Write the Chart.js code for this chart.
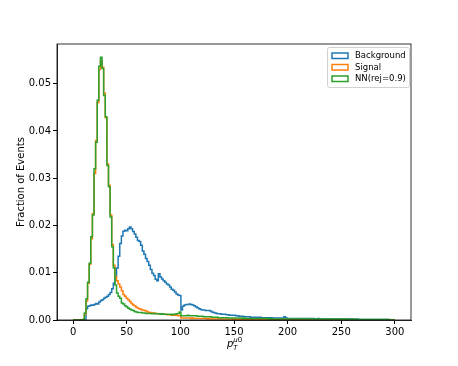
<!DOCTYPE html>
<html>
<head>
<meta charset="utf-8">
<script src="https://cdn.jsdelivr.net/npm/chart.js@4.4.0/dist/chart.umd.min.js"></script>
<style>
  html, body { margin: 0; padding: 0; background: #fff; }
  #wrap { width: 458px; height: 366px; }
</style>
</head>
<body>
<div id="wrap"><canvas id="hist" width="458" height="366"></canvas></div>
<script>
// histogram bins: 200 bins of width 1.5 from 0 to 300
var BIN_WIDTH = 1.5;
var xTicks = [0, 50, 100, 150, 200, 250, 300];
var yTicks = [0.00, 0.01, 0.02, 0.03, 0.04, 0.05];
var labels = ['Background', 'Signal', 'NN(rej=0.9)'];
var colors = ['#1f77b4', '#ff7f0e', '#2ca02c'];

var background = [
    0, 0, 0, 0, 0, 0, 0, 0, 0.0024, 0.0029,
    0.0030, 0.0032, 0.0031, 0.0033, 0.0035, 0.0034, 0.0038, 0.0041, 0.0043, 0.0046,
    0.0048, 0.0050, 0.0054, 0.0058, 0.0066, 0.0078, 0.0092, 0.0110, 0.0135, 0.0162,
    0.0178, 0.0188, 0.0190, 0.0189, 0.0193, 0.0197, 0.0193, 0.0187, 0.0182, 0.0175,
    0.0168, 0.0166, 0.0158, 0.0146, 0.0139, 0.0130, 0.0124, 0.0116, 0.0107, 0.0099,
    0.0094, 0.0086, 0.0083, 0.0098, 0.0091, 0.0087, 0.0083, 0.0080, 0.0076, 0.0074,
    0.0070, 0.0065, 0.0063, 0.0059, 0.0055, 0.0053, 0.0052, 0.0021, 0.0029, 0.0032,
    0.0033, 0.0033, 0.0034, 0.0033, 0.0032, 0.0030, 0.0028, 0.0026, 0.0024, 0.0022,
    0.0021, 0.0021, 0.0020, 0.0020, 0.0020, 0.0019, 0.0017, 0.0016, 0.0015, 0.0014,
    0.0013, 0.0013, 0.0012, 0.0012, 0.0012, 0.0011, 0.0011, 0.0010, 0.0010, 0.0010,
    0.0010, 0.0009, 0.0009, 0.0008, 0.0008, 0.0008, 0.0007, 0.0007, 0.0007, 0.0007,
    0.0006, 0.0006, 0.0006, 0.0006, 0.0006, 0.0005, 0.0006, 0.0005, 0.0005, 0.0005,
    0.0005, 0.0005, 0.0004, 0.0005, 0.0004, 0.0004, 0.0004, 0.0004, 0.0004, 0.0004,
    0.0004, 0.0007, 0.0004, 0.0003, 0.0003, 0.0003, 0.0003, 0.0003, 0.0003, 0.0003,
    0.0003, 0.0003, 0.0003, 0.0003, 0.0003, 0.0003, 0.0003, 0.0002, 0.0003, 0.0003,
    0.0002, 0.0002, 0.0003, 0.0002, 0.0002, 0.0002, 0.0002, 0.0002, 0.0002, 0.0002,
    0.0002, 0.0002, 0.0002, 0.0002, 0.0002, 0.0002, 0.0002, 0.0002, 0.0002, 0.0002,
    0.0002, 0.0001, 0.0002, 0.0002, 0.0001, 0.0001, 0.0002, 0.0001, 0.0001, 0.0001,
    0.0001, 0.0001, 0.0001, 0.0001, 0.0001, 0.0001, 0.0001, 0.0001, 0.0001, 0.0001,
    0.0001, 0.0001, 0.0001, 0.0001, 0.0001, 0.0001, 0.0001, 0, 0, 0
];

var signal = [
    0, 0, 0, 0, 0, 0, 0.0001, 0.0012, 0.0040, 0.0078,
    0.0118, 0.0172, 0.0225, 0.0310, 0.0380, 0.0460, 0.0530, 0.0548, 0.0535, 0.0480,
    0.0428, 0.0330, 0.0285, 0.0222, 0.0160, 0.0116, 0.0092, 0.0083, 0.0076, 0.0070,
    0.0062, 0.0054, 0.0050, 0.0046, 0.0043, 0.0039, 0.0035, 0.0032, 0.0030, 0.0027,
    0.0025, 0.0024, 0.0022, 0.0021, 0.0020, 0.0019, 0.0017, 0.0016, 0.0016, 0.0015,
    0.0015, 0.0014, 0.0014, 0.0013, 0.0013, 0.0012, 0.0012, 0.0012, 0.0011, 0.0011,
    0.0011, 0.0010, 0.0010, 0.0010, 0.0010, 0.0009, 0.0009, 0.0004, 0.0004, 0.0004,
    0.0004, 0.0004, 0.0004, 0.0003, 0.0004, 0.0003, 0.0003, 0.0003, 0.0003, 0.0003,
    0.0003, 0.0003, 0.0003, 0.0002, 0.0003, 0.0002, 0.0002, 0.0002, 0.0002, 0.0002,
    0.0002, 0.0002, 0.0002, 0.0002, 0.0002, 0.0002, 0.0002, 0.0002, 0.0002, 0.0001,
    0.0002, 0.0001, 0.0001, 0.0002, 0.0001, 0.0001, 0.0001, 0.0001, 0.0001, 0.0001,
    0.0001, 0.0001, 0.0001, 0.0001, 0.0001, 0.0001, 0.0001, 0.0001, 0.0001, 0.0001,
    0.0001, 0.0001, 0.0001, 0.0001, 0.0001, 0.0001, 0.0001, 0.0001, 0.0001, 0.0001,
    0.0001, 0.0001, 0.0001, 0.0001, 0.0001, 0.0001, 0.0001, 0.0001, 0.0001, 0,
    0.0001, 0, 0, 0.0001, 0, 0, 0, 0.0001, 0, 0,
    0, 0, 0, 0, 0, 0, 0, 0, 0, 0,
    0, 0, 0, 0, 0, 0, 0, 0, 0, 0,
    0, 0, 0, 0, 0, 0, 0, 0, 0, 0,
    0, 0, 0, 0, 0, 0, 0, 0, 0, 0,
    0, 0, 0, 0, 0, 0, 0, 0, 0, 0
];

var nnRej = [
    0, 0, 0, 0, 0, 0, 0.0001, 0.0015, 0.0045, 0.0080,
    0.0120, 0.0176, 0.0222, 0.0320, 0.0376, 0.0465, 0.0537, 0.0556, 0.0532, 0.0475,
    0.0430, 0.0327, 0.0282, 0.0218, 0.0155, 0.0110, 0.0074, 0.0057, 0.0050, 0.0046,
    0.0036, 0.0034, 0.0030, 0.0028, 0.0025, 0.0023, 0.0021, 0.0020, 0.0018, 0.0017,
    0.0016, 0.0016, 0.0016, 0.0015, 0.0015, 0.0014, 0.0014, 0.0014, 0.0014, 0.0013,
    0.0014, 0.0013, 0.0013, 0.0013, 0.0012, 0.0013, 0.0012, 0.0012, 0.0012, 0.0012,
    0.0012, 0.0011, 0.0012, 0.0012, 0.0013, 0.0014, 0.0017, 0.0009, 0.0009, 0.0009,
    0.0009, 0.0010, 0.0009, 0.0009, 0.0009, 0.0009, 0.0009, 0.0008, 0.0008, 0.0008,
    0.0008, 0.0007, 0.0007, 0.0007, 0.0007, 0.0007, 0.0006, 0.0006, 0.0006, 0.0006,
    0.0005, 0.0005, 0.0005, 0.0005, 0.0005, 0.0005, 0.0004, 0.0004, 0.0004, 0.0004,
    0.0004, 0.0004, 0.0004, 0.0004, 0.0004, 0.0003, 0.0004, 0.0003, 0.0003, 0.0003,
    0.0003, 0.0003, 0.0003, 0.0003, 0.0003, 0.0003, 0.0003, 0.0003, 0.0003, 0.0003,
    0.0003, 0.0002, 0.0003, 0.0002, 0.0002, 0.0002, 0.0002, 0.0002, 0.0002, 0.0002,
    0.0002, 0.0002, 0.0002, 0.0002, 0.0002, 0.0002, 0.0002, 0.0002, 0.0002, 0.0002,
    0.0002, 0.0002, 0.0002, 0.0002, 0.0002, 0.0002, 0.0002, 0.0002, 0.0002, 0.0002,
    0.0002, 0.0002, 0.0002, 0.0002, 0.0002, 0.0002, 0.0002, 0.0002, 0.0002, 0.0002,
    0.0002, 0.0002, 0.0002, 0.0001, 0.0002, 0.0002, 0.0002, 0.0001, 0.0002, 0.0002,
    0.0001, 0.0002, 0.0001, 0.0001, 0.0002, 0.0001, 0.0001, 0.0001, 0.0001, 0.0001,
    0.0001, 0.0001, 0.0001, 0.0001, 0.0001, 0.0001, 0.0001, 0.0001, 0.0001, 0.0001,
    0.0001, 0.0001, 0.0001, 0.0001, 0.0001, 0.0001, 0, 0, 0, 0
];

var FONT = 'DejaVu Sans';

// turn bin values into step outline points (like histtype='step')
function stepPoints(vals) {
    let pts = [{x: 0, y: 0}];
    for (let i = 0; i < vals.length; i++) {
        pts.push({x: i * BIN_WIDTH, y: vals[i]});
    }
    let end = vals.length * BIN_WIDTH;
    pts.push({x: end, y: vals[vals.length - 1]});
    pts.push({x: end, y: 0});
    return pts;
}

function makeSet(i, vals, order) {
    return {
        label: labels[i],
        data: stepPoints(vals),
        borderColor: colors[i],
        backgroundColor: colors[i],
        borderWidth: 1.5,
        pointRadius: 0,
        fill: false,
        stepped: true,
        order: order
    };
}

// frame, legend box and axis titles
const extras = {
    id: 'extras',
    afterDraw(chart) {
        const ctx = chart.ctx;
        const a = chart.chartArea;
        ctx.save();
        ctx.strokeStyle = '#000';
        ctx.lineWidth = 0.8;
        ctx.strokeRect(a.left, a.top, a.right - a.left, a.bottom - a.top);

        // legend
        const bx = 327, by = 47, bw = 82, bh = 40;
        ctx.beginPath();
        ctx.roundRect(bx + 0.5, by + 0.5, bw, bh, 2);
        ctx.fillStyle = 'rgba(255,255,255,0.8)';
        ctx.fill();
        ctx.strokeStyle = '#d0d0d0';
        ctx.lineWidth = 1;
        ctx.stroke();
        ctx.font = '8.5px "' + FONT + '"';
        ctx.textBaseline = 'middle';
        ctx.fillStyle = '#000';
        for (let i = 0; i < labels.length; i++) {
            const ry = by + 8.5 + i * 11.5;
            ctx.strokeStyle = colors[i];
            ctx.lineWidth = 1.5;
            ctx.strokeRect(332, ry - 2.5, 16, 5.5);
            ctx.fillText(labels[i], 355, ry + 0.5);
        }

        // y title
        ctx.save();
        ctx.translate(21, (a.top + a.bottom) / 2);
        ctx.rotate(-Math.PI / 2);
        ctx.textAlign = 'center';
        ctx.textBaseline = 'middle';
        ctx.font = '10px "' + FONT + '"';
        ctx.fillText('Fraction of Events', 0, 0);
        ctx.restore();

        // x title  p_T^{mu0}
        const cx = (a.left + a.right) / 2 - 7;
        const base = 347;
        ctx.textBaseline = 'alphabetic';
        ctx.textAlign = 'left';
        ctx.font = 'italic 10px "' + FONT + '"';
        ctx.fillText('p', cx, base);
        const pw = ctx.measureText('p').width;
        ctx.font = 'italic 7px "' + FONT + '"';
        ctx.fillText('T', cx + pw, base + 2.5);
        ctx.fillText('\u03bc', cx + pw, base - 5);
        const mw = ctx.measureText('\u03bc').width;
        ctx.font = '7px "' + FONT + '"';
        ctx.fillText('0', cx + pw + mw, base - 5);
        ctx.restore();
    }
};

const ctx = document.getElementById('hist');
new Chart(ctx, {
    type: 'line',
    data: {
        datasets: [
            makeSet(0, background, 3),
            makeSet(1, signal, 2),
            makeSet(2, nnRej, 1)
        ]
    },
    options: {
        responsive: false,
        animation: false,
        layout: { padding: { left: 0, top: 44, right: 47, bottom: 0 } },
        plugins: {
            legend: { display: false },
            tooltip: { enabled: false }
        },
        scales: {
            x: {
                type: 'linear',
                min: -15,
                max: 315,
                afterBuildTicks: function(scale) {
                    scale.ticks = xTicks.map(v => ({value: v}));
                },
                afterFit: function(scale) { scale.height = 46; },
                grid: { drawOnChartArea: false, drawTicks: true, tickLength: 4, color: '#000' },
                border: { display: true, color: '#000', width: 0.8 },
                ticks: {
                    color: '#000',
                    padding: 2,
                    maxRotation: 0,
                    font: { family: FONT, size: 10 }
                }
            },
            y: {
                type: 'linear',
                min: 0,
                max: 0.0584,
                afterBuildTicks: function(scale) {
                    scale.ticks = yTicks.map(v => ({value: v}));
                },
                afterFit: function(scale) { scale.width = 57; },
                grid: { drawOnChartArea: false, drawTicks: true, tickLength: 4, color: '#000' },
                border: { display: true, color: '#000', width: 0.8 },
                ticks: {
                    color: '#000',
                    padding: 2,
                    font: { family: FONT, size: 10 },
                    callback: function(v) { return v.toFixed(2); }
                }
            }
        }
    },
    plugins: [extras]
});
</script>
</body>
</html>
